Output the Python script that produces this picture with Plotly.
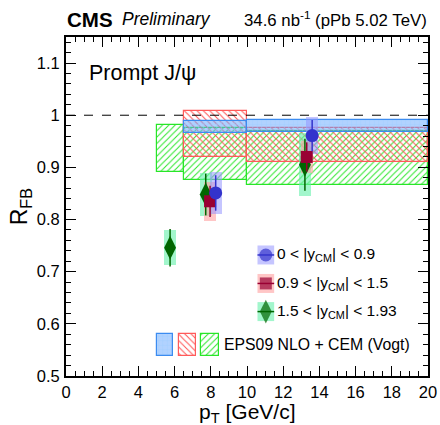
import plotly.graph_objects as go

# ---------------- data ----------------
# data points: pT position, R_FB value, stat error, syst error
blue_pt = [8.27, 13.6]
blue_val = [0.851, 0.961]
blue_stat = [0.034, 0.030]
blue_syst = [0.040, 0.036]

red_pt = [7.96, 13.3]
red_val = [0.835, 0.920]
red_stat = [0.030, 0.028]
red_syst = [0.037, 0.030]

green_pt = [5.75, 7.72, 13.2]
green_val = [0.746, 0.848, 0.905]
green_stat = [0.036, 0.040, 0.050]
green_syst = [0.034, 0.042, 0.060]

# EPS09 NLO + CEM model bands (pT bin edges, lower, upper)
mblue_lo_pt = [6.5, 10.0]
mblue_hi_pt = [10.0, 20.0]
mblue_lo = [0.966, 0.967]
mblue_hi = [0.989, 0.991]

mred_lo_pt = [6.5, 10.0]
mred_hi_pt = [10.0, 20.0]
mred_lo = [0.919, 0.911]
mred_hi = [1.008, 0.975]

mgreen_lo_pt = [5.0, 6.5, 10.0]
mgreen_hi_pt = [6.5, 10.0, 20.0]
mgreen_lo = [0.891, 0.876, 0.866]
mgreen_hi = [0.981, 0.975, 0.970]

legend_labels = ["0 < |y<sub>CM</sub>| < 0.9",
                 "0.9 < |y<sub>CM</sub>| < 1.5",
                 "1.5 < |y<sub>CM</sub>| < 1.93"]
model_label = "EPS09 NLO + CEM (Vogt)"

x_ticks = [0, 2, 4, 6, 8, 10, 12, 14, 16, 18, 20]
y_ticks = [0.5, 0.6, 0.7, 0.8, 0.9, 1.0, 1.1]
y_tick_text = ["0.5", "0.6", "0.7", "0.8", "0.9", "1", "1.1"]

FONT = "Liberation Sans, Arial, sans-serif"

C_BLUE = "rgb(51,51,204)"
C_RED = "rgb(153,0,51)"
C_GREEN = "rgb(0,102,0)"
S_BLUE = "rgba(150,150,255,0.55)"
S_RED = "rgba(255,160,160,0.6)"
S_GREEN = "rgba(100,240,170,0.6)"

fig = go.Figure()


def model_bar(lo_pt, hi_pt, lo, hi, color, line, shape, bg, name, xaxis="x", yaxis="y"):
    centers = [(a + b) / 2 for a, b in zip(lo_pt, hi_pt)]
    widths = [b - a for a, b in zip(lo_pt, hi_pt)]
    heights = [h - l for l, h in zip(lo, hi)]
    pattern = dict(shape=shape, fgcolor=color, size=4.5, solidity=0.22,
                   fillmode="replace", bgcolor=bg)
    fig.add_trace(go.Bar(x=centers, width=widths, base=lo, y=heights,
                         marker=dict(color=color, pattern=pattern,
                                     line=dict(color=line, width=1.2)),
                         showlegend=False, name=name, hoverinfo="skip",
                         xaxis=xaxis, yaxis=yaxis))


model_bar(mgreen_lo_pt, mgreen_hi_pt, mgreen_lo, mgreen_hi,
          "rgb(40,230,40)", "rgb(40,230,40)", "/", "rgba(0,0,0,0)", "green model")
model_bar(mred_lo_pt, mred_hi_pt, mred_lo, mred_hi,
          "rgb(255,80,80)", "rgb(255,90,90)", "\\", "rgba(0,0,0,0)", "red model")
model_bar(mblue_lo_pt, mblue_hi_pt, mblue_lo, mblue_hi,
          "rgba(160,205,255,0.9)", "rgb(60,140,240)", "+", "rgba(100,165,255,0.5)", "blue model")


def syst_bar(pt, val, syst, color):
    fig.add_trace(go.Bar(x=pt, width=[0.65] * len(pt),
                         base=[v - s for v, s in zip(val, syst)],
                         y=[2 * s for s in syst],
                         marker=dict(color=color, line=dict(width=0)),
                         showlegend=False, hoverinfo="skip"))


syst_bar(green_pt, green_val, green_syst, S_GREEN)
syst_bar(red_pt, red_val, red_syst, S_RED)
syst_bar(blue_pt, blue_val, blue_syst, S_BLUE)


def points(pt, val, stat, color, symbol, size):
    fig.add_trace(go.Scatter(x=pt, y=val, mode="markers",
                             marker=dict(color=color, symbol=symbol, size=size,
                                         line=dict(width=0)),
                             error_y=dict(type="data", array=stat, color=color,
                                          thickness=1.5, width=0),
                             showlegend=False))


points(green_pt, green_val, green_stat, C_GREEN, "diamond-tall", 17)
points(red_pt, red_val, red_stat, C_RED, "square", 12)
points(blue_pt, blue_val, blue_stat, C_BLUE, "circle", 13)

# ---------------- legend (paper-like overlay axes) ----------------
leg_x = 0.552
leg_rows = [0.357, 0.273, 0.190]
leg_colors = [C_BLUE, C_RED, C_GREEN]
leg_syst = [S_BLUE, S_RED, S_GREEN]
leg_symbols = ["circle", "square", "diamond-tall"]
leg_sizes = [13, 12, 17]
shapes = []
for yy, c, s in zip(leg_rows, leg_colors, leg_syst):
    shapes.append(dict(type="rect", xref="paper", yref="paper",
                       x0=leg_x - 0.023, x1=leg_x + 0.023,
                       y0=yy - 0.028, y1=yy + 0.028,
                       fillcolor=s, line=dict(width=0), layer="below"))
    shapes.append(dict(type="line", xref="paper", yref="paper",
                       x0=leg_x - 0.023, x1=leg_x + 0.023, y0=yy, y1=yy,
                       line=dict(color=c, width=1.5), layer="below"))
fig.add_trace(go.Scatter(x=[leg_x] * 3, y=leg_rows, mode="markers",
                         marker=dict(color=leg_colors, symbol=leg_symbols,
                                     size=leg_sizes, line=dict(width=0)),
                         xaxis="x2", yaxis="y2", showlegend=False, hoverinfo="skip"))

# model legend boxes
mleg_y0, mleg_h = 0.059, 0.065
model_bar([0.250], [0.296], [mleg_y0], [mleg_y0 + mleg_h],
          "rgba(160,205,255,0.9)", "rgb(60,140,240)", "+", "rgba(100,165,255,0.5)",
          "blue leg", "x2", "y2")
model_bar([0.312], [0.359], [mleg_y0], [mleg_y0 + mleg_h],
          "rgb(255,80,80)", "rgb(255,90,90)", "\\", "rgba(0,0,0,0)", "red leg", "x2", "y2")
model_bar([0.373], [0.423], [mleg_y0], [mleg_y0 + mleg_h],
          "rgb(40,230,40)", "rgb(40,230,40)", "/", "rgba(0,0,0,0)", "green leg", "x2", "y2")

# dashed line at unity
shapes.append(dict(type="line", xref="x", yref="y", x0=0, x1=20, y0=1, y1=1,
                   line=dict(color="black", width=1, dash="dash")))

annotations = []
for yy, t in zip(leg_rows, legend_labels):
    annotations.append(dict(x=0.578, y=yy, xref="paper", yref="paper", text=t,
                            showarrow=False, xanchor="left", yanchor="middle",
                            font=dict(size=15.5, color="black", family=FONT)))
annotations.append(dict(x=0.430, y=mleg_y0 + mleg_h / 2, xref="paper", yref="paper",
                        text=model_label, showarrow=False, xanchor="left",
                        yanchor="middle", font=dict(size=15.8, color="black", family=FONT)))
annotations.append(dict(x=0.057, y=0.895, xref="paper", yref="paper",
                        text="Prompt J/ψ", showarrow=False, xanchor="left",
                        yanchor="middle", font=dict(size=21.5, color="black", family=FONT)))
annotations.append(dict(x=-0.002, y=1.052, xref="paper", yref="paper",
                        text="<b>CMS</b>", showarrow=False, xanchor="left",
                        yanchor="middle", font=dict(size=20.5, color="black", family=FONT)))
annotations.append(dict(x=0.149, y=1.052, xref="paper", yref="paper",
                        text="<i>Preliminary</i>", showarrow=False, xanchor="left",
                        yanchor="middle", font=dict(size=17.5, color="black", family=FONT)))
annotations.append(dict(x=1.003, y=1.052, xref="paper", yref="paper",
                        text="34.6 nb<sup>-1</sup> (pPb 5.02 TeV)", showarrow=False,
                        xanchor="right", yanchor="middle",
                        font=dict(size=16.8, color="black", family=FONT)))
annotations.append(dict(x=0.5, y=-0.108, xref="paper", yref="paper",
                        text="p<sub>T</sub> [GeV/c]", showarrow=False, xanchor="center",
                        yanchor="middle", font=dict(size=21, color="black", family=FONT)))
annotations.append(dict(x=-0.125, y=0.5, xref="paper", yref="paper",
                        text="R<sub>FB</sub>", showarrow=False, xanchor="center",
                        yanchor="middle", textangle=-90,
                        font=dict(size=23, color="black", family=FONT)))

axis_common = dict(showgrid=False, zeroline=False, showline=True, linecolor="black",
                   linewidth=2, mirror="allticks", ticks="inside", ticklen=10,
                   tickwidth=1, tickcolor="black", automargin=False,
                   tickfont=dict(size=16.5, color="black", family=FONT))

fig.update_layout(
    width=440, height=425,
    margin=dict(l=66, r=12, t=37, b=49, autoexpand=False),
    paper_bgcolor="white", plot_bgcolor="white",
    barmode="overlay", bargap=0,
    showlegend=False,
    font=dict(family=FONT, color="black"),
    xaxis=dict(range=[0, 20], tickvals=x_ticks, ticktext=[str(v) for v in x_ticks],
               minor=dict(dtick=0.5, tick0=0, ticks="inside", ticklen=5,
                          tickcolor="black", tickwidth=1),
               ticklabelstandoff=0, **axis_common),
    yaxis=dict(range=[0.5, 1.15], tickvals=y_ticks, ticktext=y_tick_text,
               minor=dict(dtick=0.02, tick0=0.5, ticks="inside", ticklen=5,
                          tickcolor="black", tickwidth=1),
               ticklabelstandoff=1, **axis_common),
    xaxis2=dict(range=[0, 1], overlaying="x", visible=False, fixedrange=True,
                automargin=False),
    yaxis2=dict(range=[0, 1], overlaying="y", visible=False, fixedrange=True,
                automargin=False),
    shapes=shapes,
    annotations=annotations,
)

fig.write_html("out.html",
               config=dict(displayModeBar=False, responsive=False),
               post_script="document.body.style.margin='0';document.body.style.padding='0';document.body.style.overflow='hidden';")
